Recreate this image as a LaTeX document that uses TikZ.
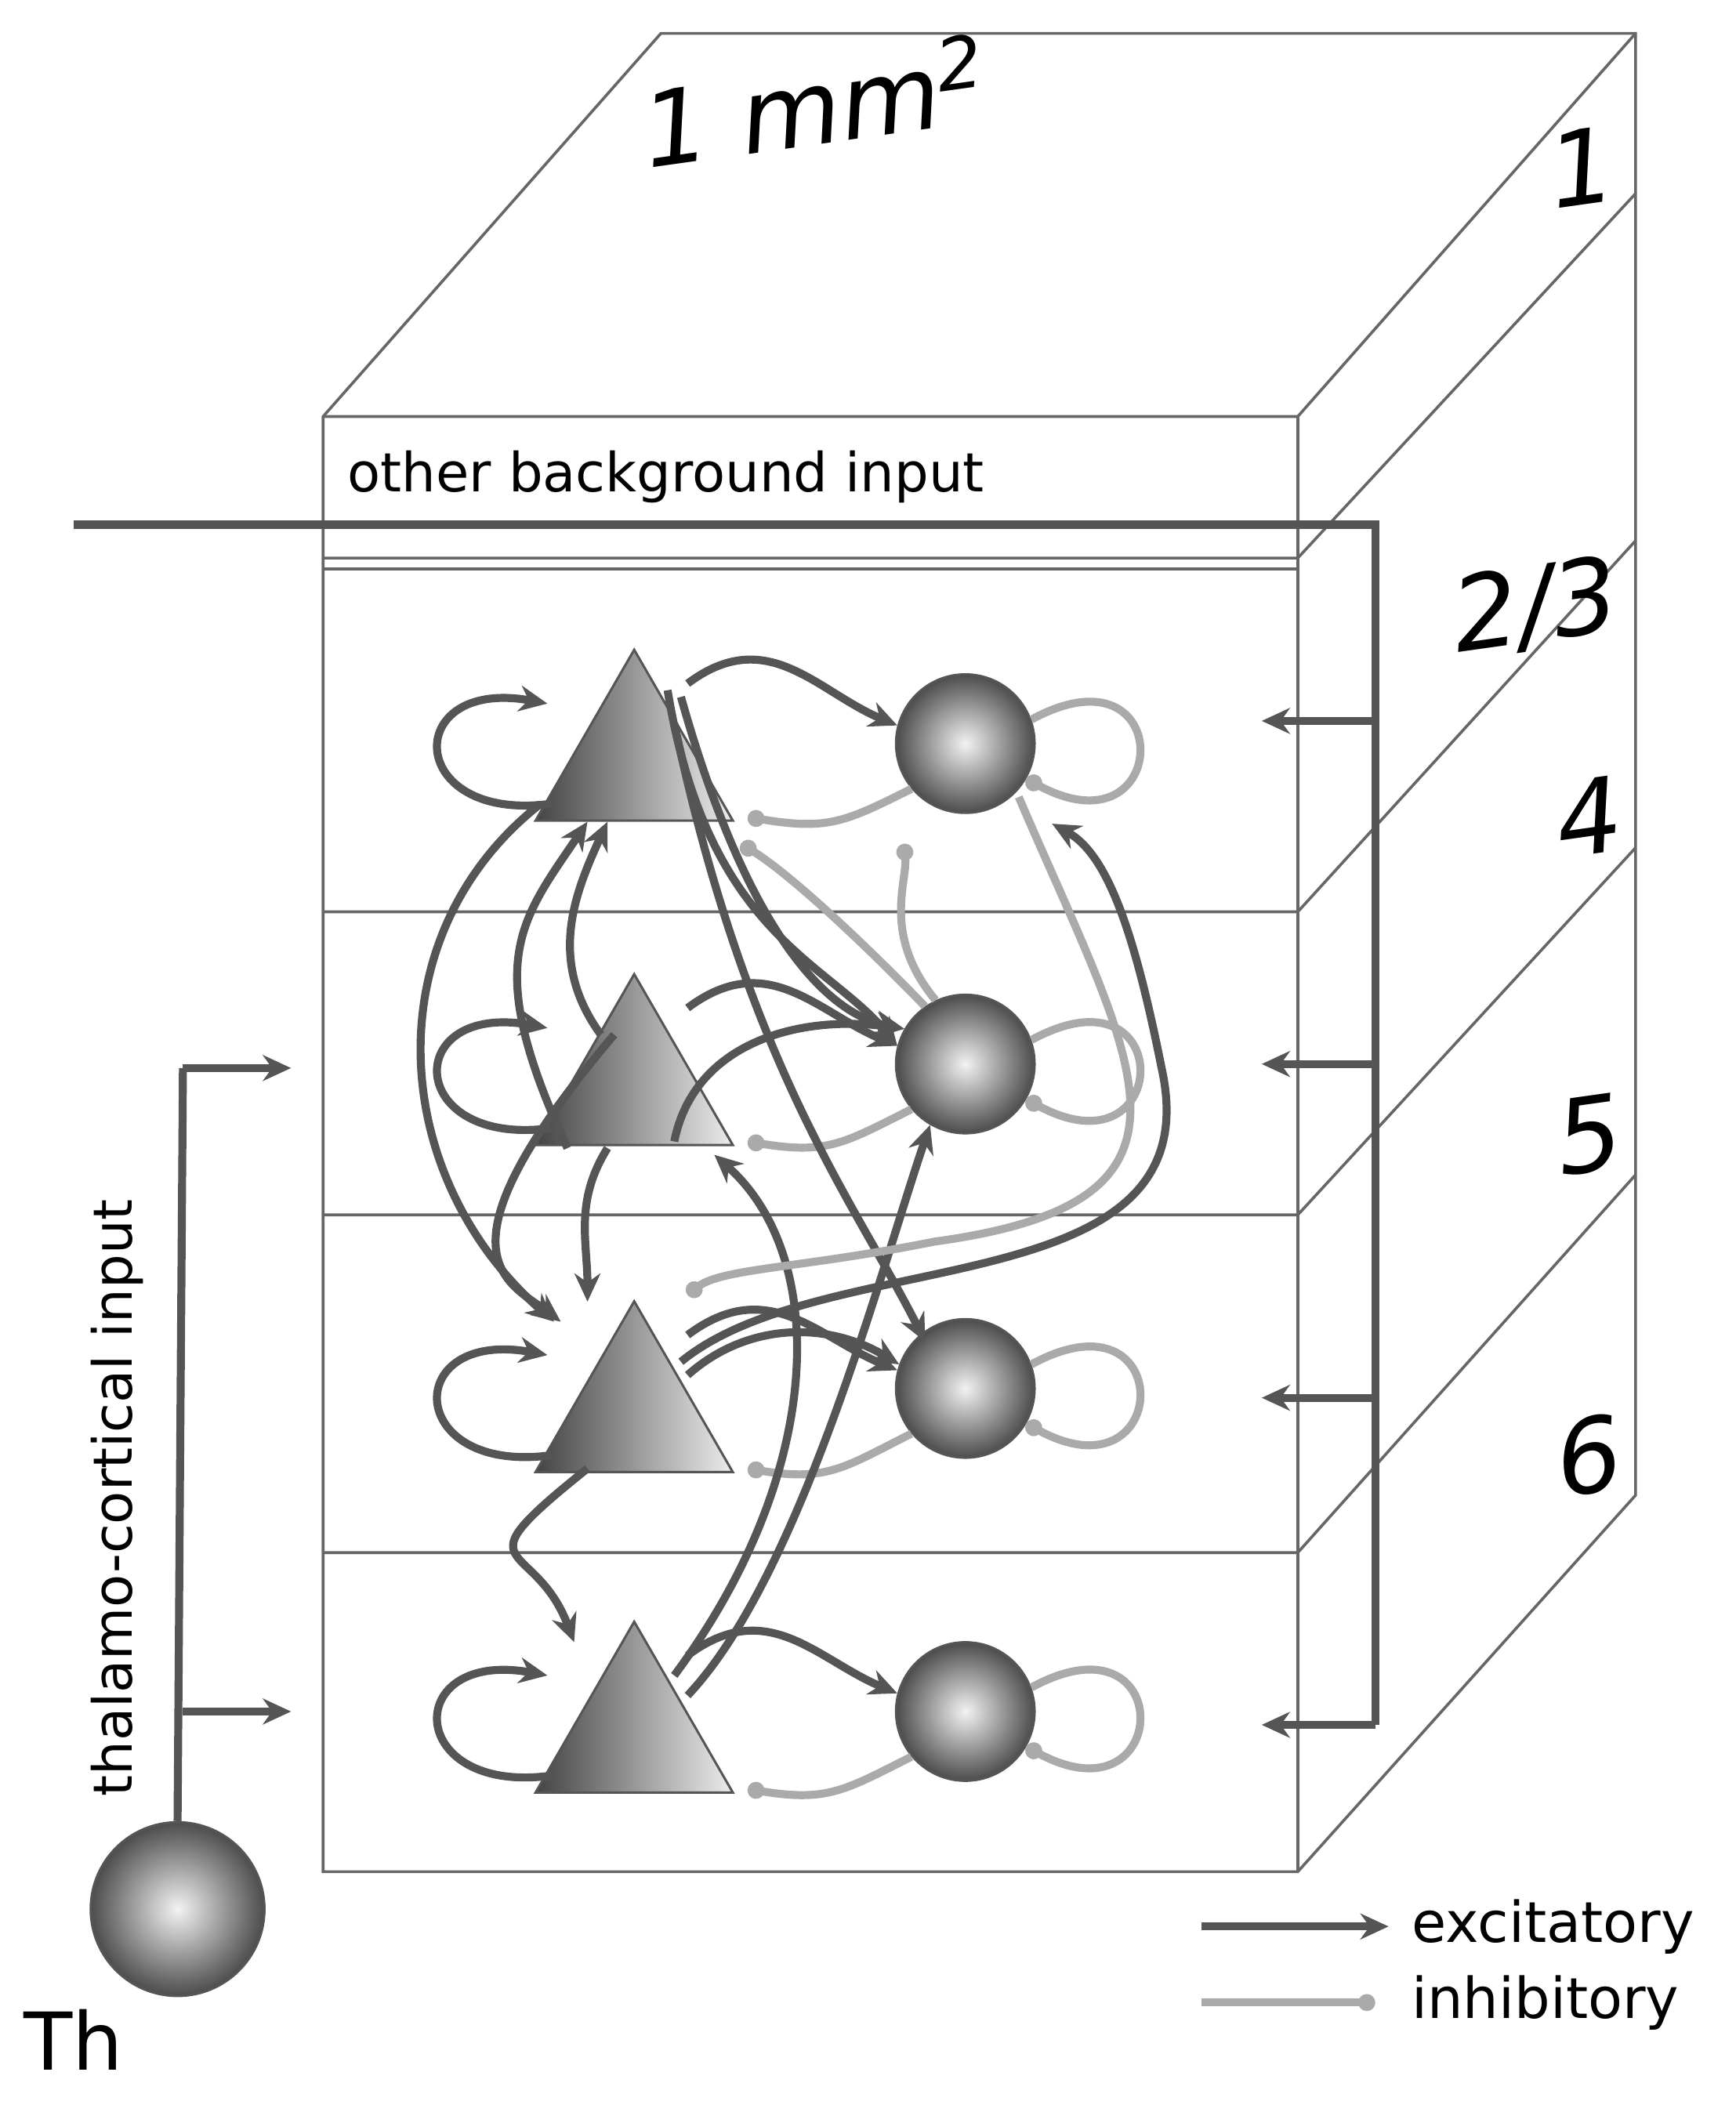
\documentclass[tikz,border=0pt]{standalone}
\usepackage{fontspec}
\setmainfont{DejaVu Sans}
\usetikzlibrary{arrows.meta,shapes.geometric}
\definecolor{ex}{HTML}{555555}
\definecolor{inh}{HTML}{AAAAAA}
\definecolor{frm}{HTML}{666666}
\begin{document}
\begin{tikzpicture}[x=0.01cm,y=-0.01cm,
 frame/.style={draw=frm,line width=0.6pt},
 exc/.style={draw=ex,line width=1.7pt,-{Stealth[length=6pt,width=5.5pt]}},
 inb/.style={draw=inh,line width=1.7pt,-{Circle[length=3.6pt]}},
 pyr/.style={regular polygon,regular polygon sides=3,minimum size=48.5pt,inner sep=0,draw=ex,line width=0.5pt,left color=ex!80!black,right color=white!85!gray},
 int/.style={circle,minimum size=29.5pt,inner sep=0,draw=ex,line width=0.5pt,inner color=white!90!gray,outer color=ex!90!black},
 lab/.style={font=\itshape\fontsize{22}{22}\selectfont}]
\useasboundingbox (0,0) rectangle (1300,1582);
% box
\draw[frame] (242,312) -- (495,25) -- (1225,25) -- (1225,1120) -- (972,1402) -- (242,1402) -- cycle;
\draw[frame] (242,312) -- (972,312) -- (1225,25);
\draw[frame] (972,312) -- (972,1402);
\draw[frame] (242,418) -- (972,418) -- (1225,145);
\draw[frame] (242,426) -- (972,426);
\foreach \y/\yb in {683/405,910/635,1163/880}{\draw[frame] (242,\y) -- (972,\y) -- (1225,\yb);}
\node[lab,rotate=8] (mm) at (610,75) {1 mm$^{\mathit{2}}$};
\node[lab,rotate=8] (l1) at (1185,125) {1};
\node[lab,rotate=8] (l23) at (1150,455) {2/3};
\node[lab,rotate=8] (l4) at (1190,612) {4};
\node[lab,rotate=8] (l5) at (1190,850) {5};
\node[lab,rotate=8] (l6) at (1190,1090) {6};
\node[anchor=west,font=\fontsize{11.5}{11.5}\selectfont] (obi) at (248,357) {other background input};
% neurons
\foreach \n/\y/\c in {a/572/557,b/815/797,c/1060/1040,d/1300/1282}{
  \node[pyr] (T\n) at (475,\y) {};
  \node[int] (C\n) at (723,\c) {};
}
% loops
\foreach \n in {a,b,c,d}{
  \draw[exc] ([shift={(-62,30)}]T\n.center) .. controls +(-110,15) and +(-110,-20) .. ([shift={(-65,-45)}]T\n.center);
  \draw[inb] (C\n.20) .. controls +(110,-60) and +(110,60) .. (C\n.-30);
  \draw[exc] ([shift={(40,-60)}]T\n.center) .. controls +(60,-45) and +(-60,-25) .. (C\n.165);
  \draw[inb] (C\n.-140) .. controls +(-50,25) and +(60,10) .. ([shift={(85,40)}]T\n.center);
}
% inter-layer excitatory
\draw[exc] ([shift={(-70,30)}]Ta.center) .. controls (280,700) and (290,880) .. ([shift={(-60,-70)}]Tc.center);
\draw[exc] ([shift={(-50,45)}]Tb.center) .. controls (360,720) and (390,690) .. ([shift={(-35,0)}]Ta.south);
\draw[exc] ([shift={(-25,-40)}]Tb.center) .. controls (410,720) and (430,670) .. ([shift={(-20,0)}]Ta.south);
\draw[exc] ([shift={(-20,45)}]Tb.center) .. controls (430,900) and (440,930) .. ([shift={(-35,-85)}]Tc.center);
\draw[exc] ([shift={(-15,-40)}]Tb.center) .. controls (320,940) and (380,960) .. ([shift={(-55,-70)}]Tc.center);
\draw[exc] ([shift={(-35,40)}]Tc.center) .. controls (340,1180) and (400,1150) .. ([shift={(-45,-70)}]Td.center);
\draw[exc] ([shift={(25,-55)}]Ta.center) .. controls (530,700) and (620,720) .. (Cb.165);
\draw[exc] ([shift={(35,-50)}]Ta.center) .. controls (560,700) and (620,760) .. (Cb.150);
\draw[exc] ([shift={(30,-30)}]Ta.center) .. controls (560,800) and (640,900) .. ([shift={(-30,-35)}]Cc.center);
\draw[exc] ([shift={(30,40)}]Tb.center) .. controls (520,780) and (600,760) .. (Cb.150);
\draw[exc] ([shift={(40,-30)}]Td.center) .. controls (600,1180) and (660,950) .. (Cb.-120);
\draw[exc] ([shift={(30,-45)}]Td.center) .. controls (620,1100) and (620,940) .. ([shift={(60,50)}]Tb.center);
\draw[exc] ([shift={(35,-40)}]Tc.center) .. controls (620,930) and (910,980) .. (870,800) .. controls (850,700) and (830,640) .. ([shift={(65,60)}]Ca.center);
\draw[exc] ([shift={(40,-30)}]Tc.center) .. controls (560,990) and (620,990) .. (Cc.160);
% inter-layer inhibitory
\draw[inb] ([shift={(40,40)}]Ca.center) .. controls (850,800) and (920,900) .. (700,930) .. controls (600,950) and (540,950) .. ([shift={(40,-90)}]Tc.center);
\draw[inb] (Cb.125) .. controls (670,730) and (600,660) .. ([shift={(80,60)}]Ta.center);
\draw[inb] (Cb.115) .. controls (660,700) and (680,660) .. (677,632);
% right input
\coordinate (bi0) at (55,393);
\coordinate (bi1) at (1030,393);
\coordinate (bi2) at (1030,1292);
\draw[ex,line width=1.7pt] (bi0) -- (bi1) -- (bi2);
\foreach \y in {540,797,1047,1292}{\coordinate (r\y) at (1030,\y); \coordinate (re\y) at (945,\y); \draw[exc] (r\y) -- (re\y);}
% thalamus
\node[int,minimum size=37pt] (Th) at (133,1430) {};
\node[font=\fontsize{17}{17}\selectfont] (thl) at (55,1528) {Th};
\coordinate (t1) at (137,800);\coordinate (t2) at (137,1282);
\draw[ex,line width=1.7pt] (Th.north) -- (t1);
\coordinate (t1e) at (218,800);\coordinate (t2e) at (218,1282);
\draw[exc] (t1) -- (t1e); \draw[exc] (t2) -- (t2e);
\node[rotate=90,font=\fontsize{11.5}{11.5}\selectfont] (tci) at (88,1122) {thalamo-cortical input};
% legend
\coordinate (le0) at (900,1443);\coordinate (le1) at (1040,1443);
\coordinate (li0) at (900,1500);\coordinate (li1) at (1030,1500);
\draw[exc] (le0) -- (le1); \draw[inb] (li0) -- (li1);
\node[anchor=west,font=\fontsize{12}{12}\selectfont] (lex) at (1045,1443) {excitatory};
\node[anchor=west,font=\fontsize{12}{12}\selectfont] (lin) at (1045,1500) {inhibitory};
\end{tikzpicture}
\end{document}
